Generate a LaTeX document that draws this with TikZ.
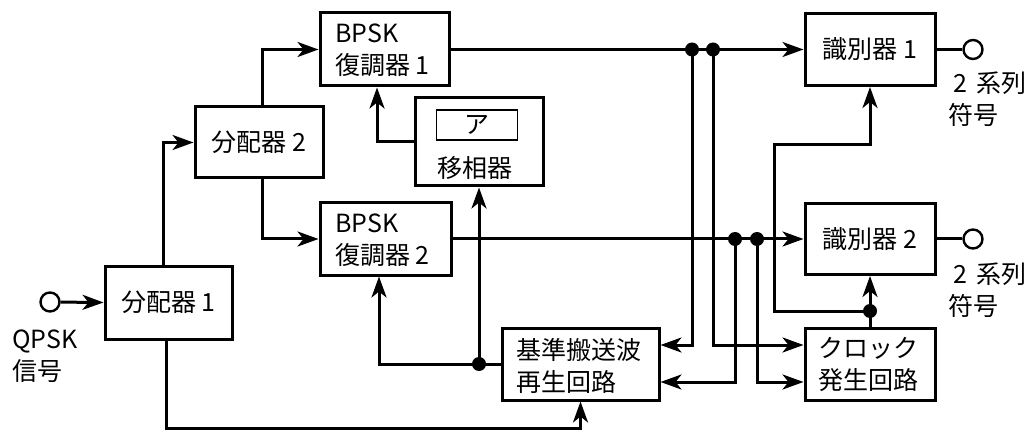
\documentclass[tikz,border=0pt]{standalone}
\usepackage{fontspec}
\setmainfont{Noto Sans CJK JP}
\usetikzlibrary{arrows.meta}
\tikzset{
  blk/.style={draw, line width=3pt, inner sep=0pt},
  lbl/.style={inner sep=0pt, align=left, font=\fontsize{25}{32}\selectfont},
  wire/.style={line width=3pt},
  arr/.style={wire, -{Stealth[length=21pt,width=15pt,inset=6pt]}},
  term/.style={draw, circle, line width=2.4pt, minimum size=19pt, inner sep=0pt},
}
\begin{document}
\begin{tikzpicture}[x=1pt,y=-1pt]
\useasboundingbox (0,0) rectangle (1027,430);
% blocks
\node[blk, minimum width=127pt, minimum height=73pt] (d1) at (168.5,302.5) {};
\node[lbl] (d1t) at (d1) {分配器 1};
\node[blk, minimum width=128pt, minimum height=71pt] (d2) at (259,142.5) {};
\node[lbl] (d2t) at (d2) {分配器 2};
\node[blk, minimum width=129pt, minimum height=73pt] (b1) at (384.5,49.5) {};
\node[lbl, anchor=west] (b1t) at (335,50.5) {BPSK\\復調器 1};
\node[blk, minimum width=131pt, minimum height=72pt] (b2) at (385.5,239) {};
\node[lbl, anchor=west] (b2t) at (335,240) {BPSK\\復調器 2};
\node[blk, minimum width=128pt, minimum height=88pt] (ps) at (479,142) {};
\node[draw, line width=1.4pt, minimum width=81pt, minimum height=30pt, inner sep=0pt] (pa) at (477,125) {};
\node[lbl] (pat) at (pa) {ア};
\node[lbl] (pst) at (475,168) {移相器};
\node[blk, minimum width=157pt, minimum height=72pt] (cr) at (580.5,364) {};
\node[lbl, anchor=west] (crt) at (516,366) {基準搬送波\\再生回路};
\node[blk, minimum width=130pt, minimum height=72pt] (j1) at (870,49.5) {};
\node[lbl] (j1t) at (j1) {識別器 1};
\node[blk, minimum width=130pt, minimum height=71pt] (j2) at (870,239) {};
\node[lbl] (j2t) at (j2) {識別器 2};
\node[blk, minimum width=130pt, minimum height=72pt] (ck) at (870,364) {};
\node[lbl, anchor=west] (ckt) at (818,364) {クロック\\発生回路};
% terminals
\node[term] (cin) at (50,302) {};
\node[lbl, anchor=west] (cint) at (12,356) {QPSK\\信号};
\node[term] (c1) at (973,49.5) {};
\node[lbl, anchor=west] (c1t) at (948,99) {\hspace*{5pt}2\hspace{9pt}系列\\符号};
\node[term] (c2) at (973,239) {};
\node[lbl, anchor=west] (c2t) at (948,290) {\hspace*{5pt}2\hspace{9pt}系列\\符号};
% junction coordinates
\coordinate (dA) at (692,49.5);
\coordinate (dB) at (713,49.5);
\coordinate (dC) at (735,239);
\coordinate (dD) at (757,239);
\coordinate (dE) at (870,311);
\coordinate (dF) at (479,364);
\coordinate (k1) at (774,311);
\coordinate (k2) at (774,145);
\coordinate (bl) at (166,428);
\coordinate (lp) at (379,364);
% connectors
\draw[arr] (cin) -- (d1.west);
\draw[arr] ([xshift=-5.5pt]d1.north) |- (d2.west);
\draw[arr] ([xshift=3pt]d2.north) |- (b1.west);
\draw[arr] ([xshift=3pt]d2.south) |- (b2.west);
\draw[arr] ([xshift=-2.5pt]d1.south) -- (bl) -| (cr.south);
\draw[arr] (b1.east) -- (j1.west);
\draw[arr] (b2.east) -- (j2.west);
\draw[arr] (dA) |- (cr.east |- 0,345);
\draw[arr] (dB) |- (ck.west |- 0,345);
\draw[arr] (dC) |- (cr.east |- 0,382);
\draw[arr] (dD) |- (ck.west |- 0,382);
\draw[arr] (ck.north) -- (j2.south);
\draw[arr] (dE) -- (k1) -- (k2) -| (j1.south);
\draw[wire] (j1.east) -- (c1);
\draw[wire] (j2.east) -- (c2);
\draw[arr] (cr.west) -- (lp) -- ([xshift=-6.5pt]b2.south);
\draw[arr] (dF) -- (ps.south);
\draw[arr] (ps.west) -| ([xshift=-7.5pt]b1.south);
% dots
\foreach \p in {dA,dB,dC,dD,dE,dF} \fill (\p) circle (7pt);
\end{tikzpicture}
\end{document}
